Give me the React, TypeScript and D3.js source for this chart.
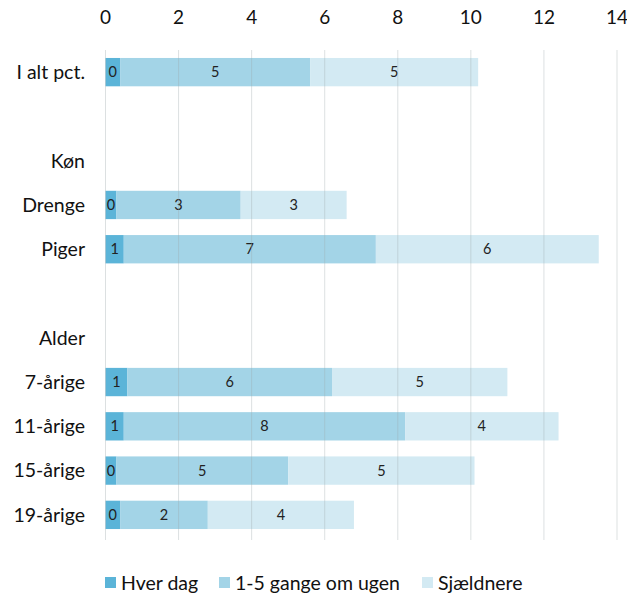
import React from "react";
import * as d3 from "d3";

const categories = ["I alt pct.", "", "Køn", "Drenge", "Piger", "", "Alder", "7-årige", "11-årige", "15-årige", "19-årige"];
const hverDag = [0.4, null, null, 0.3, 0.5, null, null, 0.6, 0.5, 0.3, 0.4];
const gange15 = [5.2, null, null, 3.4, 6.9, null, null, 5.6, 7.7, 4.7, 2.4];
const sjaeldnere = [4.6, null, null, 2.9, 6.1, null, null, 4.8, 4.2, 5.1, 4.0];
const hverDagLabels = ["0", "", "", "0", "1", "", "", "1", "1", "0", "0"];
const gange15Labels = ["5", "", "", "3", "7", "", "", "6", "8", "5", "2"];
const sjaeldnereLabels = ["5", "", "", "3", "6", "", "", "5", "4", "5", "4"];
const seriesNames = ["Hver dag", "1-5 gange om ugen", "Sjældnere"];
const colors = ["#5BB4D8", "#A3D4E7", "#D3EAF3"];
const xTicks = [0, 2, 4, 6, 8, 10, 12, 14];

export default function App() {
  const W = 627, H = 593;
  const x = d3.scaleLinear().domain([0, 14]).range([105.5, 617]);
  const y = d3.scaleBand().domain(categories.map((c, i) => String(i))).range([50, 537]).paddingInner(0.36).paddingOuter(0.18);
  const series = [hverDag, gange15, sjaeldnere];
  const labels = [hverDagLabels, gange15Labels, sjaeldnereLabels];
  const font = "Lato, 'Open Sans', sans-serif";
  const bh = y.bandwidth();
  const legendX = [105, 219, 422];
  return (
    <svg width={W} height={H} style={{ position: "absolute", left: 0, top: 0 }} fontFamily={font}>
      {xTicks.map(t => (
        <text key={"t" + t} x={x(t)} y={24} textAnchor="middle" fontSize={19} fill="#111">{t}</text>
      ))}
      {categories.map((c, i) => {
        const yc = (y(String(i)) as number) + bh / 2;
        let acc = 0;
        return (
          <g key={"r" + i}>
            <text x={85} y={yc} dy="0.35em" textAnchor="end" fontSize={19.5} fill="#111">{c}</text>
            {series.map((s, k) => {
              const v = s[i];
              if (v == null) return null;
              const x0 = x(acc);
              acc += v;
              const x1 = x(acc);
              return (
                <g key={k}>
                  <rect x={x0} y={y(String(i))} width={x1 - x0} height={bh} fill={colors[k]} />
                  <text x={(x0 + x1) / 2} y={yc} dy="0.35em" textAnchor="middle" fontSize={14.5} fill="#222">{labels[k][i]}</text>
                </g>
              );
            })}
          </g>
        );
      })}
      {xTicks.map(t => (
        <line key={"g" + t} x1={x(t)} x2={x(t)} y1={50} y2={540} stroke="#9aa5aa" strokeOpacity={0.35} strokeWidth={1} />
      ))}
      {seriesNames.map((n, k) => (
        <g key={"l" + k}>
          <rect x={legendX[k]} y={577} width={11} height={11} fill={colors[k]} />
          <text x={legendX[k] + 16} y={583} dy="0.35em" fontSize={19.5} fill="#111">{n}</text>
        </g>
      ))}
    </svg>
  );
}
